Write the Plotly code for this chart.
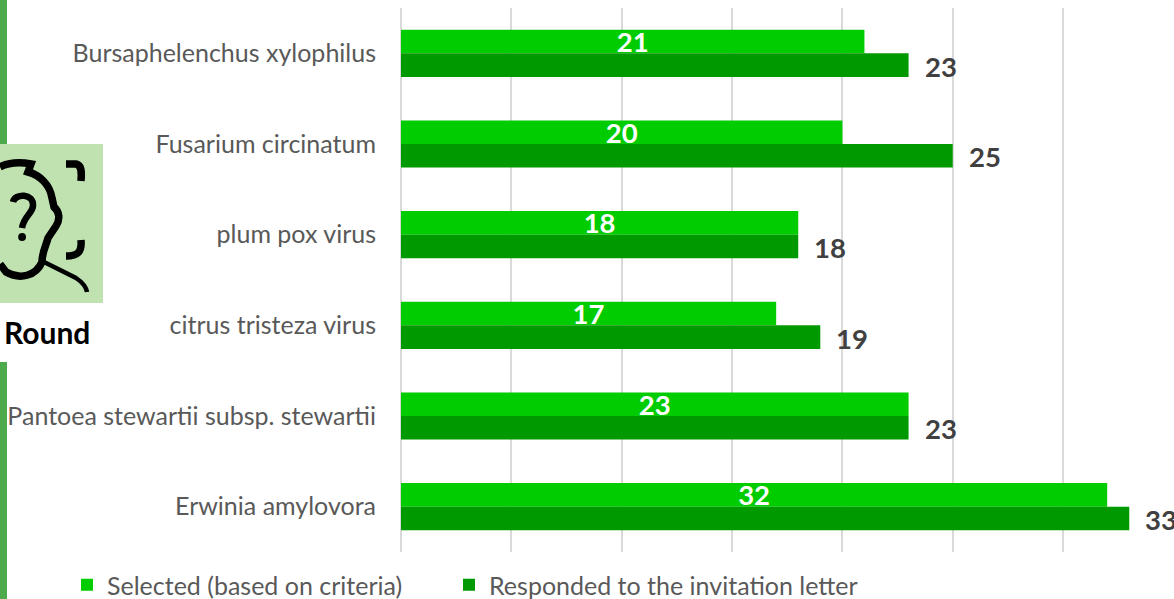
import plotly.graph_objects as go

categories = ["Bursaphelenchus xylophilus", "Fusarium circinatum", "plum pox virus",
              "citrus tristeza virus", "Pantoea stewartii subsp. stewartii", "Erwinia amylovora"]
selected = [21, 20, 18, 17, 23, 32]
responded = [23, 25, 18, 19, 23, 33]
series_names = ["Selected (based on criteria)", "Responded to the invitation letter"]
series_colors = ["#00CC00", "#009900"]

W, H = 1174, 599
FONT = "Lato"
px = lambda x: x / W
py = lambda y: 1 - y / H

fig = go.Figure()
fig.add_bar(y=categories, x=selected, name=series_names[0], orientation="h", legend="legend",
            marker=dict(color=series_colors[0], line=dict(width=0)),
            text=selected, textposition="inside", insidetextanchor="middle", textangle=0,
            constraintext="none",
            textfont=dict(family=FONT, size=27.5, color="white", weight="bold"))
fig.add_bar(y=categories, x=responded, name=series_names[1], orientation="h", legend="legend2",
            marker=dict(color=series_colors[1], line=dict(width=0)))

for c, v in zip(categories, responded):
    fig.add_annotation(x=v, y=c, xref="x", yref="y", text=str(v), showarrow=False,
                       xanchor="left", xshift=14, yshift=-13,
                       font=dict(family=FONT, size=27.5, color="#404040", weight="bold"))

shapes = [
    dict(type="rect", xref="paper", yref="paper", x0=px(0), x1=px(7), y0=py(0), y1=py(144),
         fillcolor="#4CAA4C", line_width=0, layer="below"),
    dict(type="rect", xref="paper", yref="paper", x0=px(0), x1=px(7), y0=py(362), y1=py(599),
         fillcolor="#4CAA4C", line_width=0, layer="below"),
    dict(type="rect", xref="paper", yref="paper", x0=px(0), x1=px(103), y0=py(144), y1=py(303),
         fillcolor="#BFE2B0", line_width=0, layer="below"),
]

def path(points):
    out = []
    for p in points:
        if isinstance(p, str):
            out.append(p)
        else:
            out.append(f"{px(p[0]):.5f},{py(p[1]):.5f}")
    return " ".join(out)

icon_strokes = [
    (7.5, ["M", (0, 167), "C", (8, 163), (20, 162), (31, 164), "L", (28, 172),
           "C", (40, 175), (50, 185), (52, 198), "L", (54, 207), "C", (60, 212), (60, 220), (56, 226),
           "L", (48, 238), "C", (46, 246), (42, 252), (42, 262), "C", (36, 276), (20, 280), (6, 272),
           "L", (0, 264)]),
    (7.5, ["M", (66, 164), "L", (76, 164), "C", (81, 165), (82, 170), (81, 181)]),
    (7.5, ["M", (81, 240), "C", (82, 252), (78, 256), (66, 256)]),
    (4.5, ["M", (44, 262), "L", (76, 278), "C", (82, 282), (86, 286), (87, 292)]),
    (6.5, ["M", (13, 202), "C", (15, 193), (34, 193), (33, 206), "C", (32, 214), (24, 216), (22, 228)]),
]
for w, pts in icon_strokes:
    shapes.append(dict(type="path", xref="paper", yref="paper", path=path(pts),
                       line=dict(color="black", width=w), fillcolor="rgba(0,0,0,0)"))
shapes.append(dict(type="circle", xref="paper", yref="paper", x0=px(18.2), x1=px(26), y0=py(241), y1=py(233),
                   fillcolor="black", line_width=0))

fig.add_annotation(x=px(47), y=py(332), xref="paper", yref="paper", text="<b>Round</b>", showarrow=False,
                   xanchor="center", yanchor="middle",
                   font=dict(family=FONT, size=30, color="black"))

legend_common = dict(orientation="h", y=py(585), xanchor="left", yanchor="middle",
                     font=dict(family=FONT, size=25, color="#595959"),
                     itemclick=False, itemdoubleclick=False)

fig.update_layout(
    width=W, height=H,
    margin=dict(l=0, r=0, t=0, b=0, autoexpand=False),
    paper_bgcolor="white", plot_bgcolor="white",
    barmode="group", bargap=0.48, bargroupgap=0,
    showlegend=True,
    legend=dict(x=px(67), **legend_common),
    legend2=dict(x=px(449), **legend_common),
    shapes=shapes,
    xaxis=dict(domain=[px(401), px(1173.4)], range=[0, 35], dtick=5, showticklabels=False,
               showgrid=True, gridcolor="#D9D9D9", gridwidth=1.5, zeroline=True,
               zerolinecolor="#D9D9D9", zerolinewidth=1.5, showline=False, automargin=False),
    yaxis=dict(domain=[py(552), py(8)], autorange="reversed", showgrid=False, showline=False, zeroline=False,
               ticks="outside", ticklen=19, tickcolor="rgba(0,0,0,0)", automargin=False,
               tickfont=dict(family=FONT, size=25, color="#595959")),
    font=dict(family=FONT),
)
fig.update_traces(cliponaxis=False)
fig.write_html("out.html", config={"displayModeBar": False, "responsive": False},
               post_script="document.body.style.margin='0';document.body.style.overflow='hidden';")
